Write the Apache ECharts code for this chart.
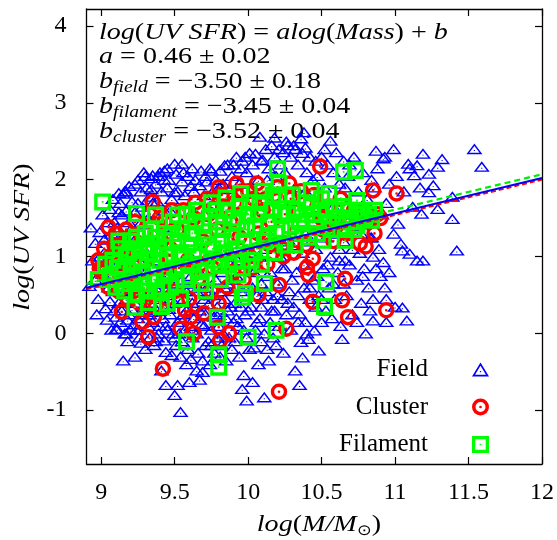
<!DOCTYPE html>
<html>
<head>
<meta charset="utf-8">
<script src="https://cdn.jsdelivr.net/npm/echarts@6.0.0/dist/echarts.min.js"></script>
<style>
  html, body { margin: 0; padding: 0; background: #ffffff; }
  #chart { width: 557px; height: 540px; }
</style>
</head>
<body>
<div id="chart"></div>
<script>
// ---- axis setup ----
const xRange = [8.9, 12];
const yRange = [-1.7, 4.22];
const xTicks = [9, 9.5, 10, 10.5, 11, 11.5, 12];
const xTickLabels = ['9', '9.5', '10', '10.5', '11', '11.5', '12'];
const yTicks = [-1, 0, 1, 2, 3, 4];
const yTickLabels = ['-1', '0', '1', '2', '3', '4'];

// ---- fit: log(UV SFR) = a log(Mass) + b ----
const fitSlope = 0.46;
const fitNames = ['field', 'filament', 'cluster'];
const fitIntercepts = [-3.50, -3.45, -3.52];

// ---- galaxies: [log(M/Msun), log(UV SFR)] ----
const fieldPoints = [
  [8.92,0.62],[8.94,0.95],[8.96,1.18],[8.98,0.45],[8.99,1.32],[9.01,0.78],[9.02,1.05],[9.03,0.33],[9.04,1.45],[9.05,0.6],
  [8.93,1.38],[8.97,0.25],[9.0,0.88],[9.02,1.22],[9.05,0.95],[9.06,0.42],[9.01,1.55],[8.96,0.7],[9.04,0.18],[8.99,1.0],
  [9.06,1.62],[9.07,0.05],[9.07,1.3],[9.08,0.55],[9.09,0.88],[9.09,1.45],[9.1,0.22],[9.1,1.12],[9.11,0.06],[9.11,0.72],
  [9.12,1.58],[9.12,0.4],[9.13,1.0],[9.13,1.7],[9.14,0.3],[9.14,1.25],[9.15,0.62],[9.15,-0.35],[9.08,1.75],[9.06,0.85],
  [9.13,0.15],[9.11,1.38],[9.15,0.9],[9.09,0.3],[9.14,1.55],[9.12,1.83],[9.17,1.85],[9.1,0.06],[9.17,0.0],
  [9.15,1.82],[9.16,0.0],[9.16,1.15],[9.17,0.45],[9.17,1.6],[9.18,0.78],[9.18,-0.1],[9.19,1.92],[9.19,0.25],[9.2,1.35],
  [9.2,0.6],[9.21,1.0],[9.21,1.72],[9.22,0.12],[9.22,0.88],[9.23,-0.3],[9.23,1.95],[9.23,0.4],[9.24,1.25],[9.24,0.7],
  [9.15,0.52],[9.17,0.92],[9.19,1.45],[9.21,0.32],[9.23,1.58],[9.16,1.85],[9.18,0.18],[9.24,0.05],
  [9.25,2.0],[9.25,0.2],[9.26,1.42],[9.26,0.55],[9.27,1.85],[9.27,-0.12],[9.28,0.9],[9.28,1.65],[9.29,0.35],[9.29,2.1],
  [9.3,2.05],[9.3,0.7],[9.3,-0.2],[9.31,1.2],[9.31,1.9],[9.32,0.1],[9.32,0.5],[9.33,1.78],[9.33,-0.05],[9.34,1.0],
  [9.34,2.02],[9.26,0.05],[9.28,0.25],[9.32,1.5],[9.29,1.1],[9.25,1.7],[9.34,0.28],[9.31,0.82],
  [9.34,1.88],[9.35,2.06],[9.35,0.15],[9.36,1.5],[9.36,-0.15],[9.37,0.6],[9.37,1.95],[9.38,0.3],[9.38,1.72],[9.39,0.0],
  [9.39,1.2],[9.4,2.1],[9.4,0.45],[9.41,-0.48],[9.41,1.85],[9.42,0.2],[9.42,0.85],[9.43,-0.09],[9.43,1.6],[9.43,2.0],
  [9.34,0.4],[9.36,0.95],[9.38,-0.05],[9.4,0.1],[9.42,1.38],[9.35,1.7],[9.39,2.05],[9.43,0.35],
  [9.43,2.12],[9.44,-0.24],[9.44,0.1],[9.44,-0.67],[9.45,1.9],[9.45,0.5],[9.46,2.0],[9.48,-0.28],[9.47,0.25],[9.48,1.75],
  [9.54,-1.02],[9.5,2.21],[9.5,-0.8],[9.49,0.0],[9.5,1.84],[9.5,0.4],[9.51,-0.15],[9.51,2.08],[9.52,-0.67],[9.52,0.15],
  [9.52,1.85],[9.43,0.7],[9.46,0.32],[9.48,0.65],[9.5,-0.05],[9.45,2.15],[9.51,0.55],[9.47,1.6],
  [9.55,2.21],[9.54,-0.3],[9.54,0.2],[9.55,1.98],[9.55,-0.1],[9.56,0.45],[9.56,2.1],[9.57,0.05],[9.57,1.8],[9.58,-0.4],
  [9.58,0.3],[9.59,2.05],[9.59,-0.2],[9.6,-0.63],[9.6,0.6],[9.61,1.92],[9.61,0.1],[9.61,-0.33],[9.62,2.15],[9.62,0.4],
  [9.62,-0.05],[9.63,1.85],[9.63,0.2],[9.65,-0.48],[9.64,2.0],[9.65,0.0],[9.65,0.55],[9.66,-0.25],[9.67,1.93],[9.67,0.3],
  [9.67,-0.6],[9.68,2.12],[9.68,0.12],[9.69,-0.5],[9.69,-0.35],[9.7,1.8],[9.7,0.45],[9.71,-0.15],[9.71,2.05],[9.71,0.25],
  [9.55,0.7],[9.58,0.85],[9.61,0.75],[9.63,0.65],[9.67,0.8],
  [9.72,0.6],[9.72,1.98],[9.73,-0.1],[9.73,0.38],[9.74,2.15],[9.74,-0.4],[9.75,2.12],[9.75,0.05],[9.76,0.5],[9.76,1.85],
  [9.77,-0.25],[9.77,0.22],[9.78,2.0],[9.78,0.7],[9.79,-0.05],[9.79,0.35],[9.8,1.9],[9.8,0.1],[9.81,-0.3],[9.81,0.55],
  [9.81,2.12],[9.81,0.28],[9.82,-0.15],[9.82,0.8],[9.83,1.95],[9.83,0.0],[9.84,2.19],[9.84,0.45],[9.85,-0.35],[9.85,0.2],
  [9.86,2.2],[9.86,0.65],[9.87,-0.05],[9.87,1.88],[9.88,0.35],[9.88,0.9],[9.89,-0.2],[9.89,2.05],[9.9,0.15],[9.9,0.55],
  [9.9,2.2],[9.91,-0.1],[9.91,0.4],[9.92,2.3],[9.92,0.75],[9.93,0.1],[9.94,1.95],[9.94,-0.3],[9.95,0.55],[9.96,-0.72],
  [9.96,2.25],[9.97,-0.54],[9.98,2.3],[9.98,0.25],[9.98,0.9],[9.99,2.1],[9.99,-0.05],[10.0,0.6],[10.01,2.35],[10.01,-0.2],
  [10.02,0.35],[10.03,-0.63],[10.03,2.2],[10.04,-0.18],[10.04,0.8],[10.05,0.05],[10.05,2.34],[10.06,0.5],[10.07,-0.4],[10.07,2.0],
  [10.08,0.2],[10.08,1.0],[10.09,2.25],[10.09,-0.1],[9.99,-0.87],[9.93,0.95],[10.02,1.05],[9.95,2.15],[10.08,2.56],[10.09,0.65],
  [10.09,0.35],[10.11,-0.83],[10.1,2.26],[10.11,0.0],[10.11,1.1],[10.12,2.4],[10.12,0.55],[10.13,-0.2],[10.14,-0.35],[10.14,2.15],
  [10.15,0.8],[10.15,0.15],[10.16,2.45],[10.17,-0.05],[10.17,0.45],[10.18,2.3],[10.18,1.2],[10.18,0.3],[10.19,2.05],[10.19,-0.15],
  [10.2,0.65],[10.21,2.4],[10.21,0.1],[10.22,1.0],[10.22,2.2],[10.23,0.45],[10.24,2.36],[10.24,-0.25],[10.25,0.85],[10.25,2.1],
  [10.26,2.5],[10.26,0.25],[10.27,1.2],[10.27,2.45],[10.38,2.62],[10.16,1.25],[10.13,2.0],[10.18,2.55],
  [10.28,0.55],[10.29,2.3],[10.29,0.05],[10.3,1.15],[10.31,2.45],[10.31,0.35],[10.32,1.9],[10.32,-0.48],[10.33,0.8],[10.34,2.2],
  [10.34,0.15],[10.35,-0.67],[10.35,0.26],[10.36,2.54],[10.36,-0.11],[10.37,-0.31],[10.37,1.05],[10.37,2.35],[10.38,0.6],[10.39,2.42],
  [10.39,1.3],[10.4,0.0],[10.4,2.1],[10.41,-0.07],[10.39,0.15],[10.42,0.45],[10.42,2.3],[10.43,1.2],[10.44,0.7],[10.44,2.0],
  [10.45,0.04],[10.46,0.35],[10.46,2.25],[10.32,2.4],[10.39,1.85],
  [10.46,1.1],[10.48,-0.22],[10.47,2.05],[10.48,0.5],[10.49,1.4],[10.5,0.15],[10.5,2.3],[10.51,0.85],[10.52,1.9],[10.53,0.3],
  [10.53,1.25],[10.54,2.2],[10.55,0.6],[10.56,2.51],[10.56,1.0],[10.57,0.2],[10.58,1.65],[10.58,2.1],[10.59,0.45],[10.6,2.36],
  [10.6,1.3],[10.61,0.8],[10.62,1.95],[10.63,0.1],[10.64,-0.07],[10.64,1.55],[10.65,2.25],[10.65,0.65],[10.52,2.4],[10.62,1.1],
  [10.65,1.2],[10.66,1.9],[10.67,0.5],[10.68,2.05],[10.69,0.9],[10.7,1.6],[10.71,0.25],[10.72,2.3],[10.73,1.4],[10.74,0.7],
  [10.75,1.85],[10.76,1.05],[10.77,0.4],[10.78,2.1],[10.79,0.85],[10.8,0.0],[10.8,1.5],[10.81,1.75],[10.82,0.6],[10.83,1.25],
  [10.84,2.0],[10.69,2.2],[10.74,0.15],[10.77,1.3],[10.83,0.3],[10.66,0.95],[10.71,1.1],[10.78,0.75],[10.85,1.0],[10.9,0.75],
  [10.96,0.8],[10.87,2.38],[10.92,2.28],
  [10.84,1.25],[10.85,0.45],[10.86,1.9],[10.87,0.85],[10.88,2.15],[10.89,1.1],[10.85,0.17],[10.91,1.55],[10.92,0.93],[10.93,2.3],
  [10.94,0.45],[10.94,1.7],[10.93,0.6],[10.96,1.95],[10.94,0.15],[10.99,1.3],[10.99,2.4],[11.0,0.35],[11.01,2.05],[11.02,1.43],
  [11.04,1.17],[11.05,0.34],[11.05,1.08],[11.06,1.85],[11.08,0.17],[11.09,2.21],[11.1,1.04],[11.1,2.15],[11.13,2.06],[11.12,1.65],
  [11.15,0.95],[11.15,2.19],[11.17,1.9],[11.18,1.56],[11.19,0.95],[11.19,2.34],[11.23,2.08],[11.23,1.84],[11.26,1.93],[11.29,2.17],
  [11.29,1.62],[11.32,2.27],[11.39,1.78],[11.39,1.49],[11.42,1.08],[11.54,2.4],[11.59,2.17],
  [9.2,0.05],[9.26,-0.05],[9.3,0.45],[9.33,0.25],[9.37,-0.1],[9.39,0.55],[9.45,0.05],[9.47,0.55],[9.53,0.0],[9.56,0.25],
  [9.58,0.55],[9.62,0.05],[9.64,0.35],[9.66,0.6],[9.7,0.1],[9.73,0.5],[9.75,-0.15],[9.78,0.25],[9.84,0.6],[9.86,0.3],
  [9.89,0.7],[9.92,0.2],[9.95,0.35],[9.97,0.05],[10.0,0.3],[10.03,0.6],[10.06,0.15],[10.1,0.45],[10.13,0.75],[10.16,0.3],
  [10.2,0.5],[10.23,0.85],[10.27,0.4],[10.3,0.7],[10.34,0.5],[10.38,0.9],[10.42,0.6],[10.47,0.75],[10.5,0.45],[10.54,0.9],
  [10.58,0.65],[10.62,0.95]
];

const clusterPoints = [
  [8.99,0.84],[9.0,0.8],[8.98,0.95],[9.05,1.38],[9.09,1.15],[9.15,1.15],[9.11,1.02],[9.05,0.6],[9.07,0.88],[9.13,0.75],
  [9.16,0.95],[9.19,1.25],[9.24,1.07],[9.29,1.32],[9.35,1.71],[9.22,0.6],[9.27,0.8],[9.18,0.45],[9.14,0.28],[9.28,0.15],
  [9.36,0.21],[9.32,-0.05],[9.34,0.5],[9.38,0.95],[9.41,1.2],[9.43,1.45],[9.42,-0.46],[9.44,0.7],[9.47,1.1],[9.5,0.55],
  [9.52,1.35],[9.54,0.06],[9.57,0.3],[9.59,0.95],[9.61,0.21],[9.63,0.0],[9.63,1.5],[9.66,0.7],[9.69,1.2],[9.7,0.26],
  [9.73,1.55],[9.76,1.62],[9.76,0.85],[9.79,1.35],[9.8,1.9],[9.8,0.39],[9.8,0.08],[9.81,-0.09],[9.83,1.65],[9.85,1.05],
  [9.87,0.0],[9.88,1.45],[9.9,0.8],[9.91,1.7],[9.94,1.25],[9.96,1.85],[9.97,0.7],[9.99,1.55],[10.01,1.0],[10.04,1.75],
  [10.07,1.3],[10.07,0.5],[10.1,1.6],[10.13,0.9],[10.16,1.45],[10.18,1.8],[10.21,0.63],[10.21,-0.76],[10.23,1.1],[10.25,1.55],
  [10.26,0.06],[10.29,1.75],[10.32,1.3],[10.35,1.6],[10.4,0.86],[10.41,0.76],[10.44,0.97],[10.44,0.41],[10.44,1.45],[10.47,1.65],
  [10.49,2.17],[10.51,1.35],[10.6,1.4],[10.64,0.43],[10.66,0.71],[10.68,0.21],[10.7,1.49],[10.72,1.6],[10.76,1.17],[10.8,1.13],
  [10.82,1.45],[10.85,1.86],[10.88,1.55],[10.94,0.3],[11.01,1.82],
  [9.02,1.1],[9.06,1.0],[9.1,1.3],[9.12,0.55],[9.17,1.35],[9.2,0.8],[9.23,1.45],[9.26,0.4],[9.3,0.95],[9.33,1.55],
  [9.37,0.35],[9.4,1.5],[9.45,0.45],[9.48,1.6],[9.53,0.85],[9.56,1.6],[9.6,0.45],[9.64,1.7],[9.68,0.9],[9.72,1.75],
  [9.75,0.55],[9.82,1.8],[9.86,0.6],[9.92,1.95],[9.95,0.95],[10.0,1.85],[10.03,0.85],[10.06,1.95],[10.12,1.75],[10.15,1.15],
  [10.2,1.9],[10.24,1.0],[10.28,1.95],[10.31,1.05],[10.36,1.85],[10.39,1.15],[10.45,1.8],[10.5,1.5],[10.55,1.65],[10.58,1.2],
  [10.63,1.75],[10.67,1.3],[10.75,1.45],[10.8,1.6],[10.86,1.3],[10.9,1.5]
];

const filamentPoints = [
  [9.01,1.71],[9.24,1.56],[9.37,1.54],[9.52,1.54],[10.2,2.14],[10.21,1.95],[10.65,2.1],[10.73,2.12],[10.43,1.86],[10.55,1.82],
  [10.74,1.73],[10.84,1.47],[10.51,1.21],[10.66,1.21],[9.96,0.47],[9.98,0.52],[9.93,0.76],[10.11,0.65],[10.53,0.67],[10.52,0.35],
  [10.0,-0.05],[10.19,0.04],[9.58,-0.11],[9.79,0.21],[9.8,-0.28],[9.8,-0.44],[9.23,0.34],[9.45,0.39],[8.98,0.7],[9.03,0.9],
  [9.06,0.75],[9.08,0.95],[9.1,0.6],[9.13,1.1],[9.15,0.85],[9.16,0.55],[9.19,1.05],[9.21,0.75],[9.24,0.5],[9.24,1.25],
  [9.27,0.95],[9.29,0.65],[9.31,1.15],[9.32,0.4],[9.34,1.35],[9.35,0.85],[9.37,0.55],[9.39,1.1],[9.41,0.35],[9.43,1.3],
  [9.43,0.75],[9.45,1.0],[9.47,0.6],[9.49,1.45],[9.5,0.85],[9.52,1.2],[9.54,0.45],[9.56,1.0],[9.58,1.55],[9.6,0.75],
  [9.62,1.3],[9.63,1.05],[9.65,1.6],[9.67,0.8],[9.69,1.4],[9.71,0.55],[9.73,1.15],[9.75,1.7],[9.77,0.95],[9.79,1.45],
  [9.81,0.7],[9.82,1.2],[9.85,1.76],[9.87,0.9],[9.9,1.5],[9.92,1.1],[9.95,1.82],[9.96,0.85],[9.99,1.35],[10.01,1.7],
  [10.04,1.05],[10.07,1.55],[10.09,0.9],[10.1,1.85],[10.13,1.25],[10.16,1.6],[10.18,1.05],[10.21,1.75],[10.23,1.35],[10.27,1.55],
  [10.3,1.8],[10.32,1.15],[10.35,1.45],[10.39,1.7],[10.41,1.25],[10.44,1.55],[10.47,1.3],[10.5,1.75],[10.55,1.45],[10.59,1.6],
  [10.63,1.35],[10.67,1.5],[10.7,1.45],[10.74,1.4],[10.79,1.5],
  [9.08,0.7],[9.11,0.85],[9.12,1.2],[9.14,0.65],[9.17,1.0],[9.18,0.7],[9.2,1.2],[9.22,0.9],[9.23,0.65],[9.26,1.1],
  [9.28,0.8],[9.3,1.3],[9.31,0.55],[9.33,1.05],[9.36,0.7],[9.37,1.25],[9.4,0.95],[9.42,0.6],[9.44,1.2],[9.46,0.8],
  [9.48,1.3],[9.51,0.65],[9.53,1.05],[9.55,1.35],[9.57,0.7],[9.59,1.15],[9.61,0.9],[9.64,1.45],[9.66,1.0],[9.68,0.65],
  [9.7,1.25],[9.72,0.85],[9.74,1.5],[9.76,1.1],[9.78,1.6],[9.8,0.9],[9.83,1.35],[9.84,1.05],[9.86,1.6],[9.89,1.25],
  [9.91,0.95],[9.93,1.45],[9.94,1.65],[9.97,1.2],[10.0,1.55],[10.02,0.95],[10.05,1.4],[10.08,1.7],[10.11,1.2],[10.14,1.45],
  [10.17,1.8],[10.19,1.3],[10.22,1.55],[10.25,1.15],[10.26,1.8],[10.29,1.4],[10.33,1.6],[10.37,1.3],[10.4,1.55],[10.43,1.65],
  [10.46,1.45],[10.49,1.55],[10.53,1.6],[10.57,1.35],[10.61,1.5],[10.65,1.65],[10.69,1.6],[10.72,1.35],[10.77,1.6],[10.82,1.55],
  [10.86,1.6]
];

// ---- marker shapes: outline rings with a small centre dot ----
const triangleMarker = 'path://M0,26 L16,0 L32,26 Z M5.73,22.8 L26.27,22.8 L16,6.1 Z M14.8,15.8 L17.2,15.8 L17.2,18.2 L14.8,18.2 Z';
const circleMarker = 'path://M0,15 A15,15 0 1 1 30,15 A15,15 0 1 1 0,15 Z M6.2,15 A8.8,8.8 0 1 0 23.8,15 A8.8,8.8 0 1 0 6.2,15 Z M12.6,15 A2.4,2.4 0 1 1 17.4,15 A2.4,2.4 0 1 1 12.6,15 Z';
const squareMarker = 'path://M0,0 L32,0 L32,32 L0,32 Z M6.2,6.2 L6.2,25.8 L25.8,25.8 L25.8,6.2 Z M14.4,14.4 L17.6,14.4 L17.6,17.6 L14.4,17.6 Z';

const SERIF = '"Liberation Serif","Times New Roman",serif';
const INK = '#000000';
const WIDEN = 1.22;   // horizontal stretch for the math-style text

// ---- text layout helpers (math-style runs of italic / upright pieces) ----
const measureCtx = document.createElement('canvas').getContext('2d');
function fontOf(p) { return (p.it ? 'italic ' : '') + p.size + 'px ' + SERIF; }
function layoutRun(pieces, x0, y, sx) {
  let x = x0;
  const els = [];
  pieces.forEach(function (p) {
    const font = fontOf(p);
    measureCtx.font = font;
    els.push({
      type: 'text', x: x, y: y + (p.dy || 0), scaleX: sx, silent: true,
      style: { text: p.t, font: font, fill: INK, align: 'left', verticalAlign: 'middle' }
    });
    x += measureCtx.measureText(p.t).width * sx;
  });
  return { els: els, width: x - x0 };
}
const M = 23, S = 16, SUB = 6;
function it(t) { return { t: t, it: true, size: M }; }
function up(t) { return { t: t, it: false, size: M }; }
function sub(t) { return { t: t, it: true, size: S, dy: SUB }; }
function fmt(v) { return (v < 0 ? '\u2212' : '') + Math.abs(v).toFixed(2); }

const formulaLines = [
  [it('log'), up('('), it('UV SFR'), up(')'), up(' = '), it('alog'), up('('), it('Mass'), up(')'), up(' + '), it('b')],
  [it('a'), up(' = ' + fitSlope.toFixed(2) + ' \u00b1 0.02')],
  [it('b'), sub('field'), up(' = ' + fmt(fitIntercepts[0]) + ' \u00b1 0.18')],
  [it('b'), sub('filament'), up(' = ' + fmt(fitIntercepts[1]) + ' \u00b1 0.04')],
  [it('b'), sub('cluster'), up(' = ' + fmt(fitIntercepts[2]) + ' \u00b1 0.04')]
];
const formulaY = [32.5, 57, 82, 107, 131.5];
let graphics = [];
formulaLines.forEach(function (line, i) {
  graphics = graphics.concat(layoutRun(line, 99, formulaY[i], WIDEN).els);
});

// x-axis title
const xTitle = [
  { t: 'log', it: true, size: 24 }, { t: '(', it: false, size: 24 },
  { t: 'M/M', it: true, size: 24 }, { t: '\u2299', it: false, size: 15, dy: 6 },
  { t: ')', it: false, size: 24 }
];
const xTitleW = layoutRun(xTitle, 0, 0, 1.17).width;
graphics = graphics.concat(layoutRun(xTitle, 319 - xTitleW / 2, 525, 1.17).els);

// y-axis title (reads bottom to top)
const yTitle = [
  { t: 'log', it: true, size: 24 }, { t: '(', it: false, size: 24 },
  { t: 'UV SFR', it: true, size: 24 }, { t: ')', it: false, size: 24 }
];
const yRun = layoutRun(yTitle, 0, 0, 1.17);
graphics.push({
  type: 'group', x: 23, y: 237 + yRun.width / 2, rotation: Math.PI / 2,
  children: yRun.els
});

// ---- fit lines ----
function fitLine(b) {
  return [[xRange[0], fitSlope * xRange[0] + b], [xRange[1], fitSlope * xRange[1] + b]];
}

const tickLabelStyle = { fontFamily: SERIF, fontSize: 24, color: INK };
const frameLine = { show: true, onZero: false, lineStyle: { color: INK, width: 1.3 } };
function tickStyle(values) {
  return { show: true, inside: true, length: 7, customValues: values, lineStyle: { color: INK, width: 1.2 } };
}

const chart = echarts.init(document.getElementById('chart'), null, { renderer: 'canvas', width: 557, height: 540 });
chart.setOption({
  animation: false,
  backgroundColor: '#ffffff',
  grid: { left: 86.5, right: 14, top: 9, bottom: 76, containLabel: false },
  xAxis: [
    {
      type: 'value', min: xRange[0], max: xRange[1], position: 'bottom',
      axisLine: frameLine, axisTick: tickStyle(xTicks), splitLine: { show: false },
      axisLabel: Object.assign({
        customValues: xTicks, margin: 17, showMinLabel: true, showMaxLabel: true,
        formatter: function (v) { const i = xTicks.indexOf(v); return i >= 0 ? xTickLabels[i] : ''; }
      }, tickLabelStyle)
    },
    {
      type: 'value', min: xRange[0], max: xRange[1], position: 'top',
      axisLine: frameLine, axisTick: tickStyle(xTicks), splitLine: { show: false },
      axisLabel: { show: false }
    }
  ],
  yAxis: [
    {
      type: 'value', min: yRange[0], max: yRange[1], position: 'left',
      axisLine: frameLine, axisTick: tickStyle(yTicks), splitLine: { show: false },
      axisLabel: Object.assign({
        customValues: yTicks, margin: 20, showMinLabel: true, showMaxLabel: true,
        formatter: function (v) { const i = yTicks.indexOf(v); return i >= 0 ? yTickLabels[i] : ''; }
      }, tickLabelStyle)
    },
    {
      type: 'value', min: yRange[0], max: yRange[1], position: 'right',
      axisLine: frameLine, axisTick: tickStyle(yTicks), splitLine: { show: false },
      axisLabel: { show: false }
    }
  ],
  legend: {
    data: ['Field', 'Cluster', 'Filament'],
    orient: 'vertical', align: 'right', right: 63, top: 352,
    itemWidth: 17, itemHeight: 17, itemGap: 12.5, selectedMode: false,
    symbolKeepAspect: true,
    textStyle: { fontFamily: SERIF, fontSize: 25, lineHeight: 25, color: INK, padding: [0, 39, 0, 0] }
  },
  graphic: graphics,
  series: [
    {
      name: 'Field', type: 'scatter', data: fieldPoints, z: 2,
      symbol: triangleMarker, symbolSize: [16, 13], symbolKeepAspect: true,
      itemStyle: { color: '#0000ff', opacity: 1, borderWidth: 0 },
      emphasis: { disabled: true }
    },
    {
      name: 'Cluster', type: 'scatter', data: clusterPoints, z: 3,
      symbol: circleMarker, symbolSize: 16.5, symbolKeepAspect: true,
      itemStyle: { color: '#ff0000', opacity: 1, borderWidth: 0 },
      emphasis: { disabled: true }
    },
    {
      name: 'Filament', type: 'scatter', data: filamentPoints, z: 4,
      symbol: squareMarker, symbolSize: 17, symbolKeepAspect: true,
      itemStyle: { color: '#00ff00', opacity: 1, borderWidth: 0 },
      emphasis: { disabled: true }
    },
    {
      name: 'fit cluster', type: 'line', data: fitLine(fitIntercepts[2]), z: 5,
      symbol: 'none', silent: true,
      lineStyle: { color: '#ff0000', width: 2, type: [5, 3] }
    },
    {
      name: 'fit filament', type: 'line', data: fitLine(fitIntercepts[1]), z: 6,
      symbol: 'none', silent: true,
      lineStyle: { color: '#00ee00', width: 2.2, type: [6, 4] }
    },
    {
      name: 'fit field', type: 'line', data: fitLine(fitIntercepts[0]), z: 7,
      symbol: 'none', silent: true,
      lineStyle: { color: '#0000ff', width: 2 }
    }
  ]
});
</script>
</body>
</html>
